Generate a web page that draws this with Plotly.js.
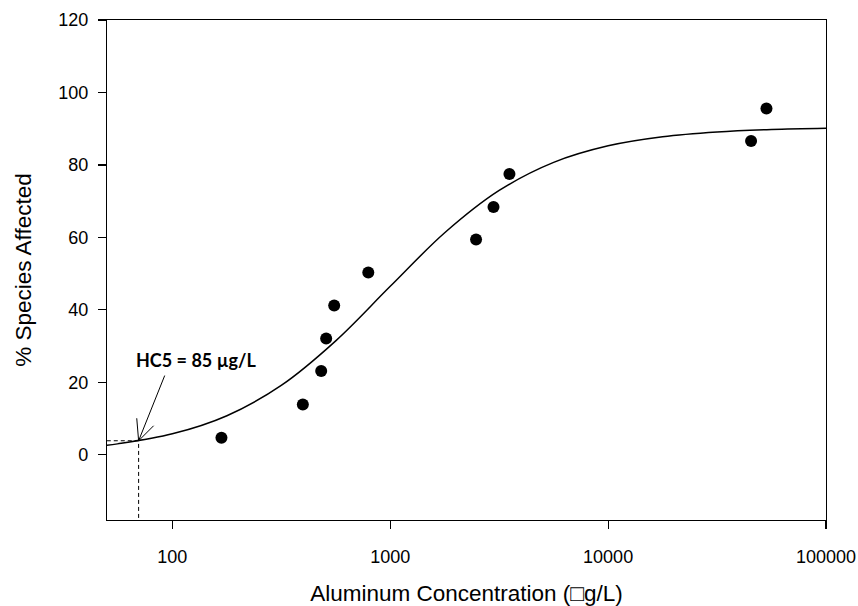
<!DOCTYPE html>
<html>
<head>
<meta charset="utf-8">
<script src="https://cdn.plot.ly/plotly-3.0.1.min.js"></script>
<style>html,body{margin:0;padding:0;background:#fff;}#chart{width:858px;height:606px;}</style>
</head>
<body>
<div id="chart"></div>
<script>
// Observed data points (concentration in µg/L, % species affected)
const pointConc = [168, 397, 482, 508, 553, 793, 2477, 2978, 3524, 45300, 53300];
const pointPct  = [4.7, 13.9, 23.1, 32.1, 41.2, 50.3, 59.4, 68.4, 77.5, 86.6, 95.6];

// Fitted curve
const curveConc = [50, 56, 100, 178, 316, 562, 1000, 1778, 3162, 5623, 10000, 17783, 31623, 56234, 100000];
const curvePct  = [2.64, 3.01, 5.78, 10.79, 19.15, 31.45, 46.49, 61.27, 72.95, 80.72, 85.29, 87.79, 89.11, 89.80, 90.14];

// HC5 marker
const hc5Conc = 70;
const hc5Pct = 3.87;
const hc5Label = 'HC5 = 85 µg/L';

const xTickVals = [100, 1000, 10000, 100000];
const xTickText = ['100', '1000', '10000', '100000'];
const yTickVals = [0, 20, 40, 60, 80, 100, 120];

const FONT = 'Liberation Sans, Arial, sans-serif';

const traces = [
  {
    x: curveConc, y: curvePct, type: 'scatter', mode: 'lines',
    line: {color: '#000', width: 1.5, shape: 'spline', smoothing: 1.0},
    hoverinfo: 'skip', showlegend: false
  },
  {
    x: [50, hc5Conc, hc5Conc], y: [hc5Pct, hc5Pct, -18], type: 'scatter', mode: 'lines',
    line: {color: '#000', width: 1, dash: '4px,3px'},
    hoverinfo: 'skip', showlegend: false
  },
  {
    x: pointConc, y: pointPct, type: 'scatter', mode: 'markers',
    marker: {color: '#000', size: 12},
    hoverinfo: 'skip', showlegend: false
  }
];

const hx = Math.log10(hc5Conc);
const layout = {
  width: 858, height: 606,
  margin: {l: 107, r: 32, t: 20, b: 86},
  paper_bgcolor: '#fff', plot_bgcolor: '#fff',
  font: {family: FONT, color: '#000'},
  showlegend: false,
  xaxis: {
    type: 'log', range: [1.70, 5],
    tickvals: xTickVals, ticktext: xTickText,
    ticks: 'outside', ticklen: 8, tickwidth: 1.2, tickcolor: '#000',
    showline: true, linecolor: '#000', linewidth: 1.2, mirror: true,
    showgrid: false, zeroline: false,
    tickfont: {family: FONT, size: 18, color: '#000'},
    ticklabelstandoff: 12,
    title: {text: 'Aluminum Concentration (\u25A1g/L)', font: {family: FONT, size: 22.5, color: '#000'}, standoff: 24}
  },
  yaxis: {
    range: [-18, 120],
    tickvals: yTickVals,
    ticks: 'outside', ticklen: 8, tickwidth: 1.2, tickcolor: '#000',
    showline: true, linecolor: '#000', linewidth: 1.2, mirror: true,
    showgrid: false, zeroline: false,
    tickfont: {family: FONT, size: 18, color: '#000'},
    ticklabelstandoff: 6,
    title: {text: '% Species Affected', font: {family: FONT, size: 22.5, color: '#000'}, standoff: 20}
  },
  annotations: [
    {x: hx, y: hc5Pct, xref: 'x', yref: 'y', text: '', showarrow: true, arrowhead: 0, arrowwidth: 1, arrowcolor: '#000', ax: 26.7, ay: -66.7},
    {x: hx, y: hc5Pct, xref: 'x', yref: 'y', text: '', showarrow: true, arrowhead: 0, arrowwidth: 1, arrowcolor: '#000', ax: -2, ay: -24},
    {x: hx, y: hc5Pct, xref: 'x', yref: 'y', text: '', showarrow: true, arrowhead: 0, arrowwidth: 1, arrowcolor: '#000', ax: 16.5, ay: -16.5},
    {x: hx, y: hc5Pct, xref: 'x', yref: 'y', text: '<b>' + hc5Label + '</b>', showarrow: false,
     xshift: 57, yshift: 81, font: {family: 'Lato, Liberation Sans, sans-serif', size: 18, color: '#000'}}
  ]
};

Plotly.newPlot('chart', traces, layout, {staticPlot: true, displayModeBar: false});
</script>
</body>
</html>
